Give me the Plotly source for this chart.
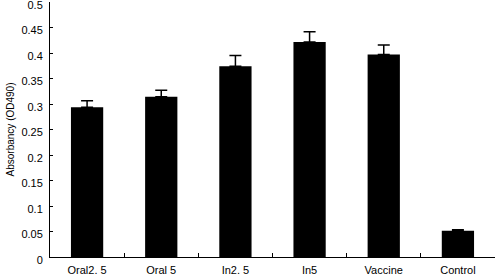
import plotly.graph_objects as go

categories = ["Oral2. 5", "Oral 5", "In2. 5", "In5", "Vaccine", "Control"]
values = [0.2935, 0.314, 0.374, 0.4215, 0.397, 0.0515]
errors = [0.013, 0.013, 0.021, 0.020, 0.0185, 0.002]
ytick_vals = [0, 0.05, 0.1, 0.15, 0.2, 0.25, 0.3, 0.35, 0.4, 0.45, 0.5]
ytick_text = ["0", "0.05", "0.1", "0.15", "0.2", "0.25", "0.3", "0.35", "0.4", "0.45", "0.5"]

fig = go.Figure(go.Bar(
    x=categories, y=values,
    marker=dict(color="black", line=dict(width=0)),
    width=0.435,
    error_y=dict(type="data", array=errors, arrayminus=[0]*len(errors),
                 symmetric=False, color="black", thickness=1.5, width=6),
))

fig.update_layout(
    width=496, height=280,
    margin=dict(l=50, r=1, t=2, b=23),
    paper_bgcolor="white", plot_bgcolor="white",
    font=dict(family="Liberation Sans, Arial, sans-serif", size=11, color="black"),
    showlegend=False,
)
fig.update_xaxes(
    type="category", showline=True, linecolor="black", linewidth=1,
    ticks="inside", tickson="boundaries", ticklen=4, tickcolor="black",
    showgrid=False, tickfont=dict(size=11), range=[-0.5, 5.5],
    automargin=False, ticklabelstandoff=3,
)
fig.update_yaxes(
    range=[0, 0.5], tickvals=ytick_vals, ticktext=ytick_text,
    showline=True, linecolor="black", linewidth=1,
    ticks="inside", ticklen=3, tickcolor="black", showgrid=False, zeroline=False,
    tickfont=dict(size=11), automargin=False, ticklabelstandoff=4,
    ticklabeloverflow="allow", ticklabelshift=3,
    title=dict(text="Absorbancy (OD490)", font=dict(size=10), standoff=4),
)
fig.write_html("out.html", config={"displayModeBar": False},
               post_script="document.body.style.margin='0';")
